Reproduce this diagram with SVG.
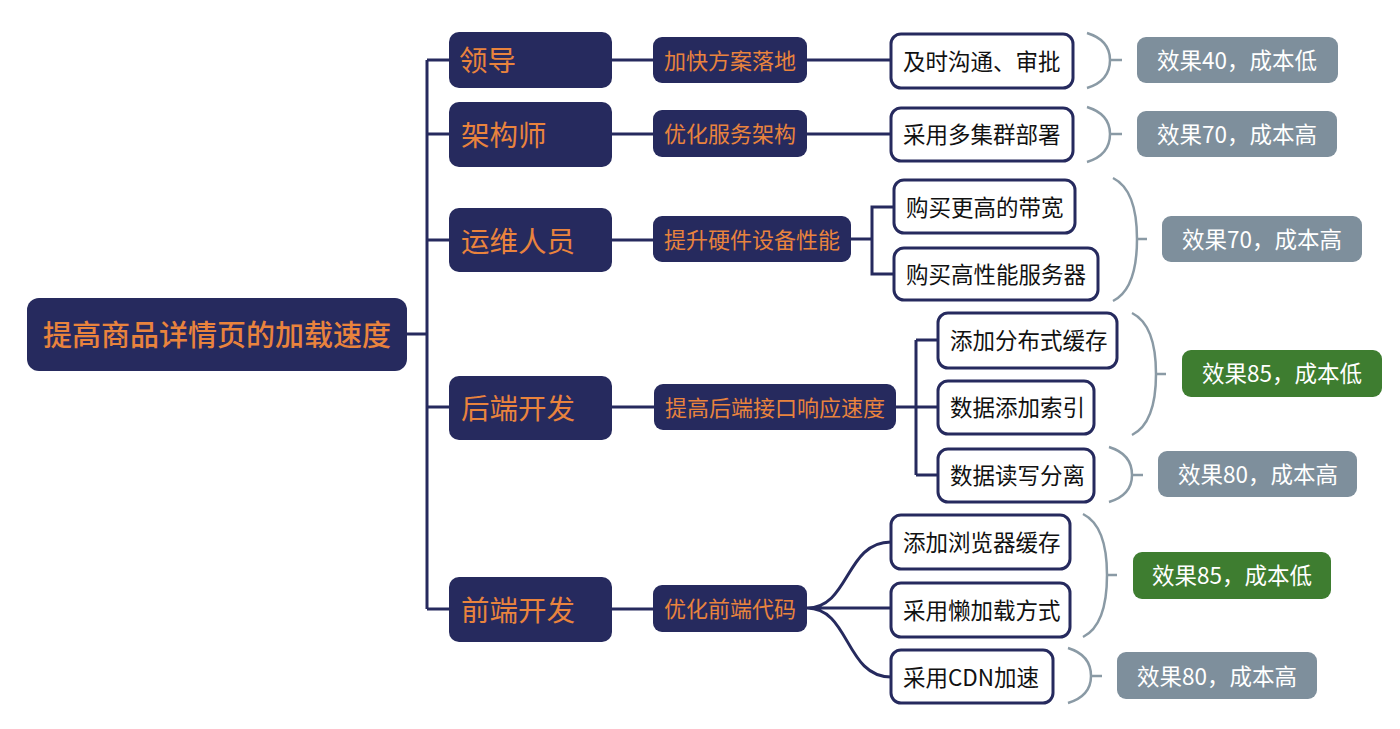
<svg xmlns="http://www.w3.org/2000/svg" width="1400" height="729" viewBox="0 0 1400 729">
<style>
text{font-family:"Noto Sans CJK SC","Noto Sans",sans-serif;dominant-baseline:central}
.dk{fill:#262A5E}
.l0{fill:#E9833D;font-size:29px;font-weight:500;text-anchor:middle}
.l1{fill:#E9833D;font-size:28.5px}
.l2{fill:#E9833D;font-size:22px;text-anchor:middle}
.l3b{fill:#fff;stroke:#262A5E;stroke-width:3}
.l3{fill:#111;font-size:22.5px}
.gr{fill:#7E8F9C}
.gn{fill:#3E7D30}
.rt{fill:#fff;font-size:22.5px;text-anchor:middle}
.cn{fill:none;stroke:#262A5E;stroke-width:3}
.br{fill:none;stroke:#8A9AA5;stroke-width:2.5}
</style>
<g id="connectors">
<path class="cn" d="M407,334H427M427,60V609M427,60H449M427,134H449M427,240H449M427,407H449M427,609H449"/>
<path class="cn" d="M612,60H654M612,134H654M612,240H654M612,407H654M612,609H654"/>
<path class="cn" d="M807,60H891M807,134H891"/>
<path class="cn" d="M851,239H872V207H894M872,239V274H894"/>
<path class="cn" d="M896,407H938M916,340V475M916,340H938M916,475H938"/>
<path class="cn" d="M807,608H891M807,608C850,608 845,542 891,542M807,608C850,608 845,677 891,677"/>
</g>
<g id="braces">
<path class="br" d="M1087,33Q1110,40 1110,60Q1110,81 1087,88M1110,60H1122"/>
<path class="br" d="M1087,107Q1110,114 1110,134Q1110,155 1087,162M1110,134H1122"/>
<path class="br" d="M1113,178Q1137,190 1137,239Q1137,289 1113,301M1137,239H1147"/>
<path class="br" d="M1132,313Q1156,325 1156,374Q1156,423 1132,435M1156,374H1166"/>
<path class="br" d="M1109,447Q1132,454 1132,475Q1132,495 1109,502M1132,475H1143"/>
<path class="br" d="M1083,514Q1107,526 1107,575Q1107,625 1083,637M1107,575H1117"/>
<path class="br" d="M1068,648Q1091,655 1091,676Q1091,696 1068,703M1091,676H1102"/>
</g>
<g id="root"><rect class="dk" x="27" y="298" width="380" height="73" rx="12"/><text class="l0" x="217" y="333">提高商品详情页的加载速度</text></g>
<g id="n-leader"><rect class="dk" x="449" y="32" width="163" height="56" rx="10"/><text class="l1" x="459" y="58">领导</text></g>
<g id="n-arch"><rect class="dk" x="449" y="102" width="163" height="65" rx="10"/><text class="l1" x="461" y="133">架构师</text></g>
<g id="n-ops"><rect class="dk" x="449" y="208" width="163" height="64" rx="10"/><text class="l1" x="461" y="239">运维人员</text></g>
<g id="n-back"><rect class="dk" x="449" y="376" width="163" height="64" rx="10"/><text class="l1" x="461" y="406">后端开发</text></g>
<g id="n-front"><rect class="dk" x="449" y="577" width="163" height="65" rx="10"/><text class="l1" x="461" y="608">前端开发</text></g>
<g id="m-leader"><rect class="dk" x="653" y="37" width="154" height="46" rx="9"/><text class="l2" x="730" y="59">加快方案落地</text></g>
<g id="m-arch"><rect class="dk" x="653" y="110" width="154" height="47" rx="9"/><text class="l2" x="730" y="132">优化服务架构</text></g>
<g id="m-ops"><rect class="dk" x="653" y="216" width="198" height="46" rx="9"/><text class="l2" x="752" y="238">提升硬件设备性能</text></g>
<g id="m-back"><rect class="dk" x="654" y="384" width="242" height="46" rx="9"/><text class="l2" x="775" y="406">提高后端接口响应速度</text></g>
<g id="m-front"><rect class="dk" x="653" y="585" width="154" height="47" rx="9"/><text class="l2" x="730" y="607">优化前端代码</text></g>
<g id="t1"><rect class="l3b" x="891" y="34" width="182" height="54" rx="10"/><text class="l3" x="903" y="60">及时沟通、审批</text></g>
<g id="t2"><rect class="l3b" x="891" y="108" width="182" height="53" rx="10"/><text class="l3" x="903" y="133">采用多集群部署</text></g>
<g id="t3"><rect class="l3b" x="894" y="180" width="181" height="53" rx="10"/><text class="l3" x="906" y="206">购买更高的带宽</text></g>
<g id="t4"><rect class="l3b" x="894" y="248" width="204" height="52" rx="10"/><text class="l3" x="906" y="273">购买高性能服务器</text></g>
<g id="t5"><rect class="l3b" x="938" y="313" width="179" height="55" rx="10"/><text class="l3" x="950" y="339">添加分布式缓存</text></g>
<g id="t6"><rect class="l3b" x="938" y="381" width="156" height="53" rx="10"/><text class="l3" x="950" y="406">数据添加索引</text></g>
<g id="t7"><rect class="l3b" x="938" y="449" width="156" height="53" rx="10"/><text class="l3" x="950" y="474">数据读写分离</text></g>
<g id="t8"><rect class="l3b" x="891" y="515" width="179" height="54" rx="10"/><text class="l3" x="903" y="541">添加浏览器缓存</text></g>
<g id="t9"><rect class="l3b" x="891" y="583" width="179" height="54" rx="10"/><text class="l3" x="903" y="609">采用懒加载方式</text></g>
<g id="t10"><rect class="l3b" x="891" y="650" width="162" height="53" rx="10"/><text class="l3" x="903" y="676">采用CDN加速</text></g>
<g id="r1"><rect class="gr" x="1137" y="37" width="201" height="46" rx="9"/><text class="rt" x="1237" y="59">效果40，成本低</text></g>
<g id="r2"><rect class="gr" x="1137" y="111" width="200" height="46" rx="9"/><text class="rt" x="1237" y="133">效果70，成本高</text></g>
<g id="r3"><rect class="gr" x="1162" y="216" width="200" height="46" rx="9"/><text class="rt" x="1262" y="238">效果70，成本高</text></g>
<g id="r4"><rect class="gn" x="1182" y="350" width="200" height="47" rx="9"/><text class="rt" x="1282" y="372">效果85，成本低</text></g>
<g id="r5"><rect class="gr" x="1158" y="451" width="199" height="46" rx="9"/><text class="rt" x="1258" y="473">效果80，成本高</text></g>
<g id="r6"><rect class="gn" x="1133" y="552" width="198" height="47" rx="9"/><text class="rt" x="1232" y="574">效果85，成本低</text></g>
<g id="r7"><rect class="gr" x="1117" y="652" width="200" height="47" rx="9"/><text class="rt" x="1217" y="675">效果80，成本高</text></g>
</svg>
